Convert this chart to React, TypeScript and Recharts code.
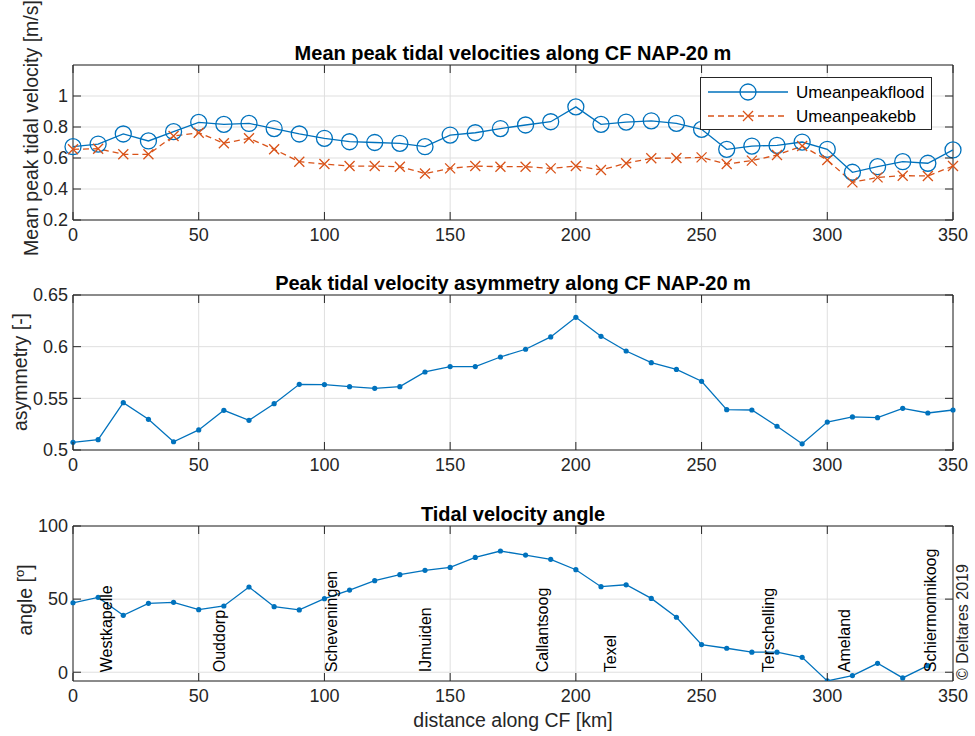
import {
  CartesianGrid,
  ComposedChart,
  Legend,
  Line,
  LineChart,
  ReferenceArea,
  Scatter,
  XAxis,
  YAxis,
} from "recharts";

const FONT = '"Liberation Sans", Arial, sans-serif';
const AXIS = "#262626";
const GRID = "#dfdfdf";
const BLUE = "#0072BD";
const ORANGE = "#D95319";

// distance along CF [km]
const KM = [
  0, 10, 20, 30, 40, 50, 60, 70, 80, 90, 100, 110, 120, 130, 140, 150, 160, 170,
  180, 190, 200, 210, 220, 230, 240, 250, 260, 270, 280, 290, 300, 310, 320, 330,
  340, 350,
];
const U_FLOOD = [
  0.673, 0.69, 0.755, 0.71, 0.77, 0.83, 0.817, 0.823, 0.79, 0.755, 0.727, 0.705,
  0.7, 0.695, 0.673, 0.748, 0.763, 0.79, 0.813, 0.834, 0.93, 0.817, 0.832, 0.84,
  0.824, 0.785, 0.656, 0.677, 0.682, 0.703, 0.656, 0.508, 0.544, 0.576, 0.566,
  0.652,
];
const U_EBB = [
  0.656, 0.66, 0.624, 0.624, 0.742, 0.763, 0.695, 0.727, 0.656, 0.576, 0.561,
  0.548, 0.548, 0.544, 0.5, 0.533, 0.548, 0.544, 0.544, 0.533, 0.548, 0.523,
  0.566, 0.598, 0.6, 0.604, 0.561, 0.583, 0.619, 0.677, 0.587, 0.443, 0.475,
  0.486, 0.484, 0.548,
];
const ASYM = [
  0.5074, 0.51, 0.5458, 0.5297, 0.508, 0.5194, 0.5384, 0.5287, 0.5448, 0.5636,
  0.5633, 0.5613, 0.5597, 0.5613, 0.5755, 0.5807, 0.5807, 0.59, 0.5975, 0.6094,
  0.6284, 0.61, 0.5958, 0.5845, 0.578, 0.5665, 0.539, 0.5387, 0.523, 0.506,
  0.527, 0.532, 0.5313, 0.5403, 0.5358, 0.5387,
];
// angle has no value at 350 km
const ANGLE = [
  47.5, 51.2, 38.9, 47.1, 47.8, 42.8, 45.3, 58.3, 44.8, 42.6, 50.3, 56.2, 62.6,
  66.7, 69.7, 71.7, 78.5, 82.9, 80.1, 77.2, 70.1, 58.5, 59.8, 50.5, 37.6, 18.9,
  16.4, 13.7, 13.7, 10.2, -5.9, -2.3, 6.1, -3.9, 4.5,
];

const PLACES = [
  "Westkapelle",
  "Ouddorp",
  "Scheveningen",
  "IJmuiden",
  "Callantsoog",
  "Texel",
  "Terschelling",
  "Ameland",
  "Schiermonnikoog",
];
const PLACE_KM = [13.4, 58.4, 103, 140.5, 187, 214, 277, 307, 341.5];

const X_TICKS = [0, 50, 100, 150, 200, 250, 300, 350];
const VEL_TICKS = [0.2, 0.4, 0.6, 0.8, 1];
const ASYM_TICKS = [0.5, 0.55, 0.6, 0.65];
const ANGLE_TICKS = [0, 50, 100];

const velData = KM.map((km, i) => ({ km, flood: U_FLOOD[i], ebb: U_EBB[i] }));
const asymData = KM.map((km, i) => ({ km, asym: ASYM[i] }));
const angleData = ANGLE.map((a, i) => ({ km: KM[i], angle: a }));
const placeData = PLACES.map((name, i) => ({ km: PLACE_KM[i], y: 0, name }));

const PLOT_W = 880;
const PLOT_H = 155;
const X_MARGIN = 8;
const Y_MARGIN = 5;
const TICK_LEN = 8;

function makeXTick(plotH: number) {
  return function XTick(props: any) {
    const { x, y, payload } = props;
    const base = y - X_MARGIN;
    return (
      <g>
        <line x1={x} x2={x} y1={base} y2={base - TICK_LEN} stroke={AXIS} />
        <line x1={x} x2={x} y1={base - plotH} y2={base - plotH + TICK_LEN} stroke={AXIS} />
        <text x={x} y={y} dy="0.71em" textAnchor="middle" fill={AXIS} fontSize={18} fontFamily={FONT}>
          {payload.value}
        </text>
      </g>
    );
  };
}

function makeYTick(plotW: number) {
  return function YTick(props: any) {
    const { x, y, payload } = props;
    const base = x + Y_MARGIN;
    return (
      <g>
        <line x1={base} x2={base + TICK_LEN} y1={y} y2={y} stroke={AXIS} />
        <line x1={base + plotW} x2={base + plotW - TICK_LEN} y1={y} y2={y} stroke={AXIS} />
        <text x={x} y={y} dy="0.35em" textAnchor="end" fill={AXIS} fontSize={18} fontFamily={FONT}>
          {String(payload.value)}
        </text>
      </g>
    );
  };
}

const XTick = makeXTick(PLOT_H);
const YTick = makeYTick(PLOT_W);

function CircleDot(props: any) {
  const { cx, cy } = props;
  if (cx == null || cy == null) return null;
  return <circle cx={cx} cy={cy} r={8} fill="none" stroke={BLUE} strokeWidth={1.3} />;
}

function CrossDot(props: any) {
  const { cx, cy } = props;
  if (cx == null || cy == null) return null;
  const s = 5;
  return (
    <path
      d={`M${cx - s},${cy - s}L${cx + s},${cy + s}M${cx - s},${cy + s}L${cx + s},${cy - s}`}
      stroke={ORANGE}
      strokeWidth={1.3}
      fill="none"
    />
  );
}

function SmallDot(props: any) {
  const { cx, cy } = props;
  if (cx == null || cy == null) return null;
  return <circle cx={cx} cy={cy} r={2.6} fill={BLUE} stroke="none" />;
}

function PlaceLabel(props: any) {
  const { cx, cy, payload } = props;
  if (cx == null || cy == null) return null;
  return (
    <text
      transform={`translate(${cx},${cy}) rotate(-90)`}
      dy="0.3em"
      fontSize={16}
      fontFamily={FONT}
      fill="#000"
    >
      {payload?.name}
    </text>
  );
}

const LEGEND_ORDER = ["flood", "ebb"];

function VelLegend(props: any) {
  const items = [...(props.payload || [])].sort(
    (a: any, b: any) => LEGEND_ORDER.indexOf(a.dataKey) - LEGEND_ORDER.indexOf(b.dataKey)
  );
  return (
    <svg width={232} height={53} style={{ display: "block" }}>
      <rect x={0.5} y={0.5} width={231} height={52} fill="#fff" stroke={AXIS} />
      {items.map((it: any, i: number) => {
        const cy = 15 + i * 24;
        const isEbb = it.dataKey === "ebb";
        return (
          <g key={it.dataKey}>
            <line
              x1={8}
              x2={88}
              y1={cy}
              y2={cy}
              stroke={isEbb ? ORANGE : BLUE}
              strokeWidth={1.3}
              strokeDasharray={isEbb ? "6 4" : undefined}
            />
            {isEbb ? <CrossDot cx={48} cy={cy} /> : <CircleDot cx={48} cy={cy} />}
            <text x={96} y={cy} dy="0.35em" fontSize={17} fontFamily={FONT} fill="#000">
              {it.value}
            </text>
          </g>
        );
      })}
    </svg>
  );
}

const chartMargin = { top: 65, right: 22, bottom: 0, left: 0 };

function xAxisProps() {
  return {
    type: "number" as const,
    dataKey: "km",
    domain: [0, 350],
    ticks: X_TICKS,
    interval: 0 as const,
    tickSize: 0,
    tickMargin: X_MARGIN,
    axisLine: false,
    height: 25,
    tick: XTick,
  };
}

function yAxisProps(domain: number[], ticks: number[]) {
  return {
    type: "number" as const,
    domain,
    ticks,
    interval: 0 as const,
    tickSize: 0,
    tickMargin: Y_MARGIN,
    axisLine: false,
    width: 73,
    allowDataOverflow: true,
    tick: YTick,
  };
}

export default function App() {
  return (
    <div
      style={{
        position: "absolute",
        left: 0,
        top: 0,
        width: 975,
        height: 736,
        background: "#fff",
        fontFamily: FONT,
      }}
    >
      <div style={{ position: "absolute", left: 0, top: 0 }}>
        <LineChart width={975} height={245} data={velData} margin={chartMargin}>
          <CartesianGrid stroke={GRID} />
          <XAxis {...xAxisProps()} />
          <YAxis {...yAxisProps([0.2, 1.2], VEL_TICKS)} />
          <ReferenceArea x1={0} x2={350} y1={0.2} y2={1.2} fill="none" stroke={AXIS} ifOverflow="visible" />
          <Line
            dataKey="flood"
            name="Umeanpeakflood"
            stroke={BLUE}
            strokeWidth={1.3}
            dot={CircleDot}
            isAnimationActive={false}
          />
          <Line
            dataKey="ebb"
            name="Umeanpeakebb"
            stroke={ORANGE}
            strokeWidth={1.3}
            strokeDasharray="6 4"
            dot={CrossDot}
            isAnimationActive={false}
          />
          <Legend
            layout="horizontal"
            align="center"
            verticalAlign="middle"
            content={VelLegend}
            wrapperStyle={{ left: 700, top: 77, width: 232, height: 53 }}
          />
        </LineChart>
      </div>

      <div style={{ position: "absolute", left: 0, top: 230 }}>
        <LineChart width={975} height={245} data={asymData} margin={chartMargin}>
          <CartesianGrid stroke={GRID} />
          <XAxis {...xAxisProps()} />
          <YAxis {...yAxisProps([0.5, 0.65], ASYM_TICKS)} />
          <ReferenceArea x1={0} x2={350} y1={0.5} y2={0.65} fill="none" stroke={AXIS} ifOverflow="visible" />
          <Line
            dataKey="asym"
            stroke={BLUE}
            strokeWidth={1.3}
            dot={SmallDot}
            isAnimationActive={false}
          />
        </LineChart>
      </div>

      <div style={{ position: "absolute", left: 0, top: 461 }}>
        <ComposedChart width={975} height={245} data={angleData} margin={chartMargin}>
          <CartesianGrid stroke={GRID} />
          <XAxis {...xAxisProps()} />
          <YAxis {...yAxisProps([-6, 100], ANGLE_TICKS)} />
          <ReferenceArea x1={0} x2={350} y1={-6} y2={100} fill="none" stroke={AXIS} ifOverflow="visible" />
          <Line
            dataKey="angle"
            stroke={BLUE}
            strokeWidth={1.3}
            dot={SmallDot}
            isAnimationActive={false}
          />
          <Scatter data={placeData} dataKey="y" shape={PlaceLabel} isAnimationActive={false} />
        </ComposedChart>
      </div>

      <svg
        width={975}
        height={736}
        style={{ position: "absolute", left: 0, top: 0, pointerEvents: "none" }}
      >
        <g fontFamily={FONT} fill="#000">
          <text x={513} y={60} textAnchor="middle" fontSize={20} fontWeight="bold">
            Mean peak tidal velocities along CF NAP-20 m
          </text>
          <text x={513} y={290} textAnchor="middle" fontSize={20} fontWeight="bold">
            Peak tidal velocity asymmetry along CF NAP-20 m
          </text>
          <text x={513} y={521} textAnchor="middle" fontSize={20} fontWeight="bold">
            Tidal velocity angle
          </text>
        </g>
        <g fontFamily={FONT} fill={AXIS} fontSize={19.5}>
          <text transform="translate(37.5,128) rotate(-90)" textAnchor="middle">
            Mean peak tidal velocity [m/s]
          </text>
          <text transform="translate(27,372) rotate(-90)" textAnchor="middle">
            asymmetry [-]
          </text>
          <text transform="translate(32,600) rotate(-90)" textAnchor="middle">
            angle [
            <tspan dy={-8} fontSize={13}>
              o
            </tspan>
            <tspan dy={8}>]</tspan>
          </text>
          <text x={513} y={727} textAnchor="middle">
            distance along CF [km]
          </text>
        </g>
        <text
          transform="translate(968,680) rotate(-90)"
          fontSize={16}
          fontFamily={FONT}
          fill={AXIS}
        >
          © Deltares 2019
        </text>
      </svg>
    </div>
  );
}
